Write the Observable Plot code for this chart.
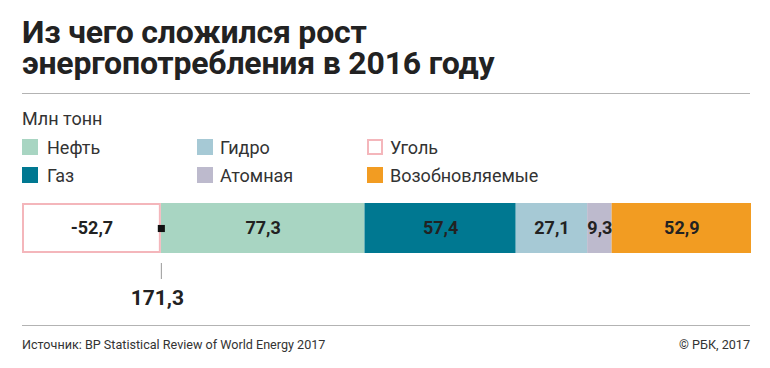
<!DOCTYPE html>
<html><head><meta charset="utf-8">
<script src="https://cdn.jsdelivr.net/npm/d3@7"></script>
<script src="https://cdn.jsdelivr.net/npm/@observablehq/plot@0.6"></script>
<style>
body{margin:0;background:#fff;}
#root{position:relative;width:770px;height:368px;font-family:Roboto,"Noto Sans",sans-serif;color:#222;overflow:hidden;}
.abs{position:absolute;white-space:nowrap;}
.title{left:22px;font-size:32px;font-weight:700;line-height:30px;color:#222;letter-spacing:-0.2px;}
.hr{left:22px;width:728px;height:1px;background:#b3b3b3;}
#unit{left:22px;top:109px;font-size:18px;line-height:20px;color:#333;}
.sw{width:16px;height:16px;box-sizing:border-box;}
.lt{font-size:18px;line-height:20px;color:#333;}
#chart{left:0;top:195px;}
.foot{top:337px;font-size:12.6px;line-height:15px;color:#333;}
</style></head>
<body><div id="root">
<div class="abs title" style="top:17px">Из чего сложился рост</div>
<div class="abs title" style="top:48px">энергопотребления в 2016 году</div>
<div class="abs hr" style="top:93px"></div>
<div id="unit" class="abs">Млн тонн</div>
<div id="chart" class="abs"></div>
<div class="abs hr" style="top:325px"></div>
<div class="abs foot" style="left:22px">Источник: BP Statistical Review of World Energy 2017</div>
<div class="abs foot" style="right:20px">© РБК, 2017</div>
</div>
<script>
const categories = ["Уголь", "Нефть", "Газ", "Гидро", "Атомная", "Возобновляемые"];
const values = [-52.7, 77.3, 57.4, 27.1, 9.3, 52.9];
const colors = ["#ffffff", "#a8d5c2", "#007891", "#a6c9d5", "#bdbacd", "#f29c22"];
const legendOrder = ["Нефть", "Газ", "Гидро", "Атомная", "Уголь", "Возобновляемые"];
const coalStroke = "#f4b6bb";

const data = categories.map((c, i) => ({cat: c, value: values[i], row: "2016"}));
const total = d3.sum(values);
const fmt = v => String(Math.round(v * 10) / 10).replace(".", ",");

// legend
const root = document.getElementById("root");
const swX = [22, 197, 367];
const txX = [47, 220, 390];
const swTop = [139, 167];
const txTop = [138, 166];
legendOrder.forEach((c, i) => {
  const col = Math.floor(i / 2), row = i % 2;
  const idx = categories.indexOf(c);
  const sw = document.createElement("div");
  sw.className = "abs sw";
  sw.style.left = swX[col] + "px";
  sw.style.top = swTop[row] + "px";
  sw.style.background = colors[idx];
  if (c === "Уголь") sw.style.border = "2px solid " + coalStroke;
  root.appendChild(sw);
  const t = document.createElement("div");
  t.className = "abs lt";
  t.style.left = txX[col] + "px";
  t.style.top = txTop[row] + "px";
  t.textContent = c;
  root.appendChild(t);
});

const chart = Plot.plot({
  width: 770,
  height: 120,
  marginLeft: 22,
  marginRight: 19,
  marginTop: 8,
  marginBottom: 62,
  style: {fontFamily: "Roboto, sans-serif", background: "transparent", overflow: "visible"},
  x: {axis: null},
  y: {axis: null, domain: ["2016"], padding: 0},
  color: {domain: categories, range: colors},
  marks: [
    Plot.barX(data, Plot.stackX({x: "value", y: "row", fill: "cat"})),
    Plot.barX(data.filter(d => d.value < 0), Plot.stackX({x: "value", y: "row", fill: "none", stroke: coalStroke, strokeWidth: 2, inset: 1})),
    Plot.text(data, Plot.stackX({x: "value", y: "row", text: d => fmt(d.value), fill: "#222", fontSize: 18, fontWeight: 700})),
    Plot.dot([0], {x: d => d, y: () => "2016", symbol: "square", r: 4, fill: "#111"}),
    Plot.tickX([0], {x: d => d, y: () => "2016", dy: 60, insetBottom: 34, stroke: "#999", strokeWidth: 1}),
    Plot.text([total], {x: () => 0, y: () => "2016", text: d => fmt(d), dy: 70, dx: -4, fontSize: 21, fontWeight: 700, fill: "#222"})
  ]
});
document.getElementById("chart").appendChild(chart);
</script>
</body></html>
